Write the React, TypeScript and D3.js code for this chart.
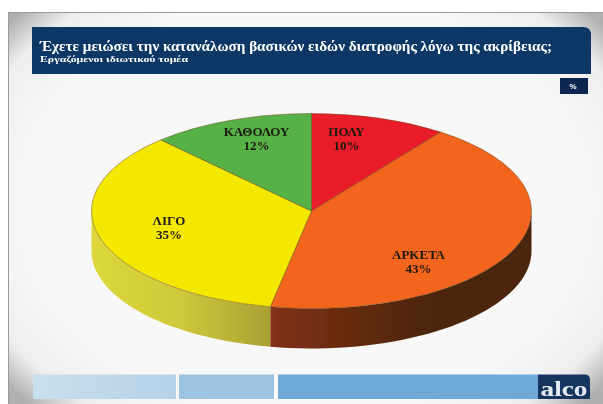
import React from "react";
import * as d3 from "d3";

const categories = ["ΠΟΛΥ", "ΑΡΚΕΤΑ", "ΛΙΓΟ", "ΚΑΘΟΛΟΥ"];
const values = [10, 43, 35, 12];
const colors = ["#ea1c2b", "#f3651f", "#f5e800", "#56b146"];
const labelAnchors: [number, number][] = [[35, 75], [107, -48], [-142.5, -14], [-55, 75]];
const title = "Έχετε μειώσει την κατανάλωση βασικών ειδών διατροφής λόγω της ακρίβειας;";
const subtitle = "Εργαζόμενοι ιδιωτικού τομέα";
const unitLabel = "%";
const brand = "alco";
const footerBars = [
  { x: 33, w: 143, c: "url(#pale)" },
  { x: 179, w: 95, c: "#9cc4e2" },
  { x: 278, w: 260, c: "#6fa9d6" },
];

const W = 603, H = 404;
const cx = 311.5, cy = 211, rx = 220, ry = 97.5, depth = 40;
const serif = "'Liberation Serif', serif";

const pie = d3.pie<number>().sort(null).value((d) => d);
const arcs = pie(values);
const arc = d3.arc<d3.PieArcDatum<number>>().innerRadius(0).outerRadius(rx);

const px = (a: number) => cx + rx * Math.sin(a);
const py = (a: number) => cy - ry * Math.cos(a);

function sidePath(a0: number, a1: number) {
  const s = d3.range(0, 41).map((i) => a0 + ((a1 - a0) * i) / 40);
  const top = s.map((a) => [px(a), py(a)] as [number, number]);
  const bot = s.slice().reverse().map((a) => [px(a), py(a) + depth] as [number, number]);
  return d3.line()([...top, ...bot]) + "Z";
}

export default function App() {
  const front = [
    { a0: Math.PI / 2, a1: arcs[1].endAngle, fill: "url(#brown)" },
    { a0: arcs[2].startAngle, a1: (3 * Math.PI) / 2, fill: "url(#olive)" },
  ];
  return (
    <svg width={W} height={H} viewBox={`0 0 ${W} ${H}`} style={{ position: "absolute", left: 0, top: 0 }}>
      <defs>
        <linearGradient id="brown" gradientUnits="userSpaceOnUse" x1={270} x2={531} y1={0} y2={0}>
          <stop offset="0" stopColor="#83301a" />
          <stop offset="0.25" stopColor="#6b2c10" />
          <stop offset="0.6" stopColor="#4c2509" />
          <stop offset="1" stopColor="#4a260b" />
        </linearGradient>
        <linearGradient id="olive" gradientUnits="userSpaceOnUse" x1={92} x2={270} y1={0} y2={0}>
          <stop offset="0" stopColor="#dcd83c" />
          <stop offset="0.5" stopColor="#cfc83a" />
          <stop offset="1" stopColor="#a9a033" />
        </linearGradient>
        <linearGradient id="pale" x1={0} x2={1} y1={0} y2={0}>
          <stop offset="0" stopColor="#c6e0ee" />
          <stop offset="1" stopColor="#b6d2ea" />
        </linearGradient>
        <radialGradient id="vignette" gradientUnits="userSpaceOnUse" cx={305} cy={205} r={1} gradientTransform="translate(305 205) scale(385 285) translate(-305 -205)">
          <stop offset="0.72" stopColor="#f8f8f9" />
          <stop offset="0.9" stopColor="#eeeef1" />
          <stop offset="1" stopColor="#b0b0b0" />
        </radialGradient>
        <filter id="soft" x="-5%" y="-5%" width="110%" height="110%"><feGaussianBlur stdDeviation="0.6" /></filter>
        <filter id="softer" x="-10%" y="-30%" width="120%" height="160%"><feGaussianBlur stdDeviation="0.45" /></filter>
      </defs>
      <rect width={W} height={H} fill="#fff" />
      <rect x={8} y={12} width={W - 8} height={H - 12} fill="url(#vignette)" />
      <path d={`M8.5 404V12.5H603`} fill="none" stroke="#9a9a9a" />

      <g filter="url(#soft)">
        <path d="M32 27H583Q591 27 591 35V74H32Z" fill="#0f3866" />
        <rect x={560} y={78} width={28} height={16} fill="#0a2650" />
      </g>
      <g filter="url(#softer)">
        <text x={40} y={51} fontFamily={serif} fontWeight={700} fontSize={15} fill="#fff" textLength={512} lengthAdjust="spacingAndGlyphs">{title}</text>
        <text x={40} y={62} fontFamily={serif} fontWeight={700} fontSize={9} fill="#fff" textLength={148} lengthAdjust="spacingAndGlyphs">{subtitle}</text>
        <text x={573} y={89} textAnchor="middle" fontFamily="'Liberation Sans', sans-serif" fontWeight={700} fontSize={8} fill="#fff">{unitLabel}</text>
      </g>

      <g filter="url(#soft)">
        {front.map((f, i) => <path key={i} d={sidePath(f.a0, f.a1)} fill={f.fill} />)}
        {arcs.map((d, i) => (
          <path
            key={categories[i]}
            d={arc(d) as string}
            transform={`translate(${cx} ${cy}) scale(1 ${ry / rx})`}
            fill={colors[i]}
            stroke="#6d4a1a"
            strokeOpacity={0.7}
            strokeWidth={0.7}
            vectorEffect="non-scaling-stroke"
          />
        ))}
      </g>

      <g filter="url(#softer)">
        {categories.map((c, i) => {
          const [dx, dy] = labelAnchors[i];
          const x = cx + dx, y = cy - dy;
          return (
            <text key={c} textAnchor="middle" fontFamily={serif} fontWeight={700} fontSize={13} fill="#1c1a10">
              <tspan x={x} y={y}>{c}</tspan>
              <tspan x={x} y={y + 14}>{values[i]}%</tspan>
            </text>
          );
        })}
      </g>

      <g filter="url(#soft)">
        {footerBars.map((b) => <rect key={b.x} x={b.x} y={374.5} width={b.w} height={24.5} fill={b.c} />)}
        <path d="M538 374.5H585Q590 374.5 590 380V399H538Z" fill="#15345f" />
      </g>
      <text x={564} y={396} textAnchor="middle" fontFamily={serif} fontWeight={700} fontSize={22} fill="#e6ebf2" filter="url(#softer)" textLength={47} lengthAdjust="spacingAndGlyphs">{brand}</text>
    </svg>
  );
}
